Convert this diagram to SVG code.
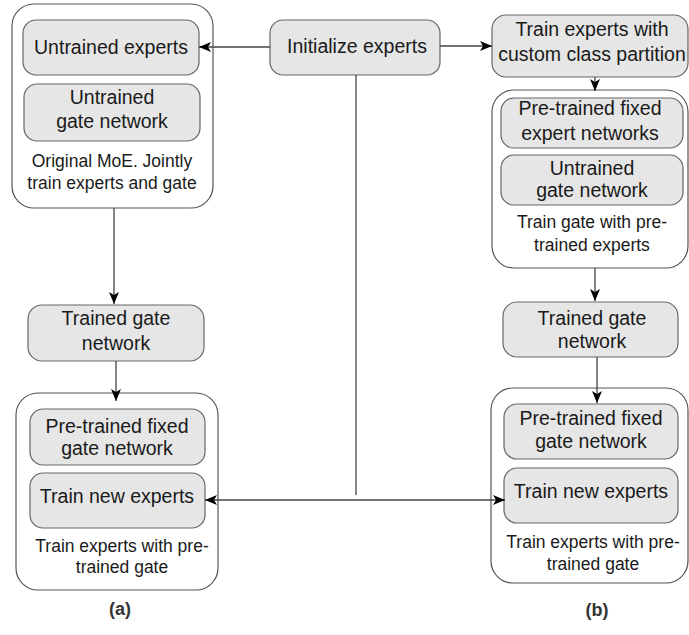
<svg xmlns="http://www.w3.org/2000/svg" width="689" height="635" viewBox="0 0 689 635">
<defs>
<style>
.outer{fill:#ffffff;stroke:#555555;stroke-width:1.2}
.inner{fill:#e6e6e6;stroke:#666666;stroke-width:1.2}
.t{font-family:"Liberation Sans",Arial,sans-serif;font-size:19.5px;fill:#1a1a1a;text-anchor:middle}
.s{font-family:"Liberation Sans",Arial,sans-serif;font-size:17.5px;fill:#1a1a1a;text-anchor:middle}
.lbl{font-family:"Liberation Sans",Arial,sans-serif;font-size:18px;font-weight:bold;fill:#333333;text-anchor:middle}
.c{fill:none;stroke:#444444;stroke-width:1.3}
</style>
<marker id="arr" markerUnits="userSpaceOnUse" markerWidth="14" markerHeight="12" refX="12" refY="5" orient="auto" viewBox="0 0 14 12">
<path d="M0,0 L12,5 L0,10 L3,5 Z" fill="#000000"/>
</marker>
</defs>

<g id="group-a1">
<rect class="outer" x="12" y="4" width="201" height="204" rx="22"/>
</g>
<g id="a-untrained-experts">
<rect class="inner" x="23" y="20" width="176" height="55" rx="13"/>
<text class="t" x="111" y="54">Untrained experts</text>
</g>
<g id="a-untrained-gate">
<rect class="inner" x="24" y="84" width="176" height="57" rx="13"/>
<text class="t" x="112" y="104">Untrained</text>
<text class="t" x="112" y="128">gate network</text>
</g>
<g id="a1-caption">
<text class="s" x="112" y="167">Original MoE. Jointly</text>
<text class="s" x="112" y="189">train experts and gate</text>
</g>

<g id="initialize">
<rect class="inner" x="270" y="20" width="170" height="55" rx="13"/>
<text class="t" x="357" y="53">Initialize experts</text>
</g>

<g id="train-custom">
<rect class="inner" x="492" y="15" width="196" height="62" rx="14"/>
<text class="t" x="592" y="36">Train experts with</text>
<text class="t" x="592" y="61">custom class partition</text>
</g>

<g id="group-b1">
<rect class="outer" x="492" y="90" width="196" height="178" rx="22"/>
</g>
<g id="b-fixed-experts">
<rect class="inner" x="501" y="98" width="182" height="50" rx="13"/>
<text class="t" x="590" y="115">Pre-trained fixed</text>
<text class="t" x="590" y="140">expert networks</text>
</g>
<g id="b-untrained-gate">
<rect class="inner" x="501" y="155" width="182" height="50" rx="13"/>
<text class="t" x="592" y="175">Untrained</text>
<text class="t" x="592" y="197">gate network</text>
</g>
<g id="b1-caption">
<text class="s" x="592" y="228">Train gate with pre-</text>
<text class="s" x="592" y="251">trained experts</text>
</g>

<g id="a-trained-gate">
<rect class="inner" x="28" y="305" width="176" height="56" rx="14"/>
<text class="t" x="116" y="325">Trained gate</text>
<text class="t" x="116" y="350">network</text>
</g>

<g id="b-trained-gate">
<rect class="inner" x="503" y="302" width="175" height="55" rx="14"/>
<text class="t" x="592" y="325">Trained gate</text>
<text class="t" x="592" y="348">network</text>
</g>

<g id="group-a2">
<rect class="outer" x="16" y="393" width="202" height="197" rx="22"/>
</g>
<g id="a-fixed-gate">
<rect class="inner" x="30" y="409" width="175" height="56" rx="13"/>
<text class="t" x="117" y="433">Pre-trained fixed</text>
<text class="t" x="117" y="455">gate network</text>
</g>
<g id="a-new-experts">
<rect class="inner" x="30" y="473" width="175" height="55" rx="13"/>
<text class="t" x="117" y="503">Train new experts</text>
</g>
<g id="a2-caption">
<text class="s" x="122" y="552">Train experts with pre-</text>
<text class="s" x="122" y="573">trained gate</text>
</g>

<g id="group-b2">
<rect class="outer" x="491" y="388" width="197" height="195" rx="22"/>
</g>
<g id="b-fixed-gate">
<rect class="inner" x="504" y="404" width="174" height="55" rx="13"/>
<text class="t" x="591" y="425">Pre-trained fixed</text>
<text class="t" x="591" y="448">gate network</text>
</g>
<g id="b-new-experts">
<rect class="inner" x="504" y="468" width="174" height="55" rx="13"/>
<text class="t" x="591" y="498">Train new experts</text>
</g>
<g id="b2-caption">
<text class="s" x="593" y="548">Train experts with pre-</text>
<text class="s" x="593" y="570">trained gate</text>
</g>

<g id="labels">
<text class="lbl" x="120" y="615">(a)</text>
<text class="lbl" x="597" y="616">(b)</text>
</g>

<g id="connectors">
<path class="c" d="M270,47 L199,47" marker-end="url(#arr)"/>
<path class="c" d="M440,46 L492,46" marker-end="url(#arr)"/>
<path class="c" d="M595,77 L595,91" marker-end="url(#arr)"/>
<path class="c" d="M114,208 L114,304" marker-end="url(#arr)"/>
<path class="c" d="M595,268 L595,301" marker-end="url(#arr)"/>
<path class="c" d="M116,361 L116,401" marker-end="url(#arr)"/>
<path class="c" d="M597,357 L597,403" marker-end="url(#arr)"/>
<path class="c" d="M356,75 L356,495"/>
<path class="c" d="M356,500 L205,500" marker-end="url(#arr)"/>
<path class="c" d="M356,500 L505,500" marker-end="url(#arr)"/>
</g>
</svg>
